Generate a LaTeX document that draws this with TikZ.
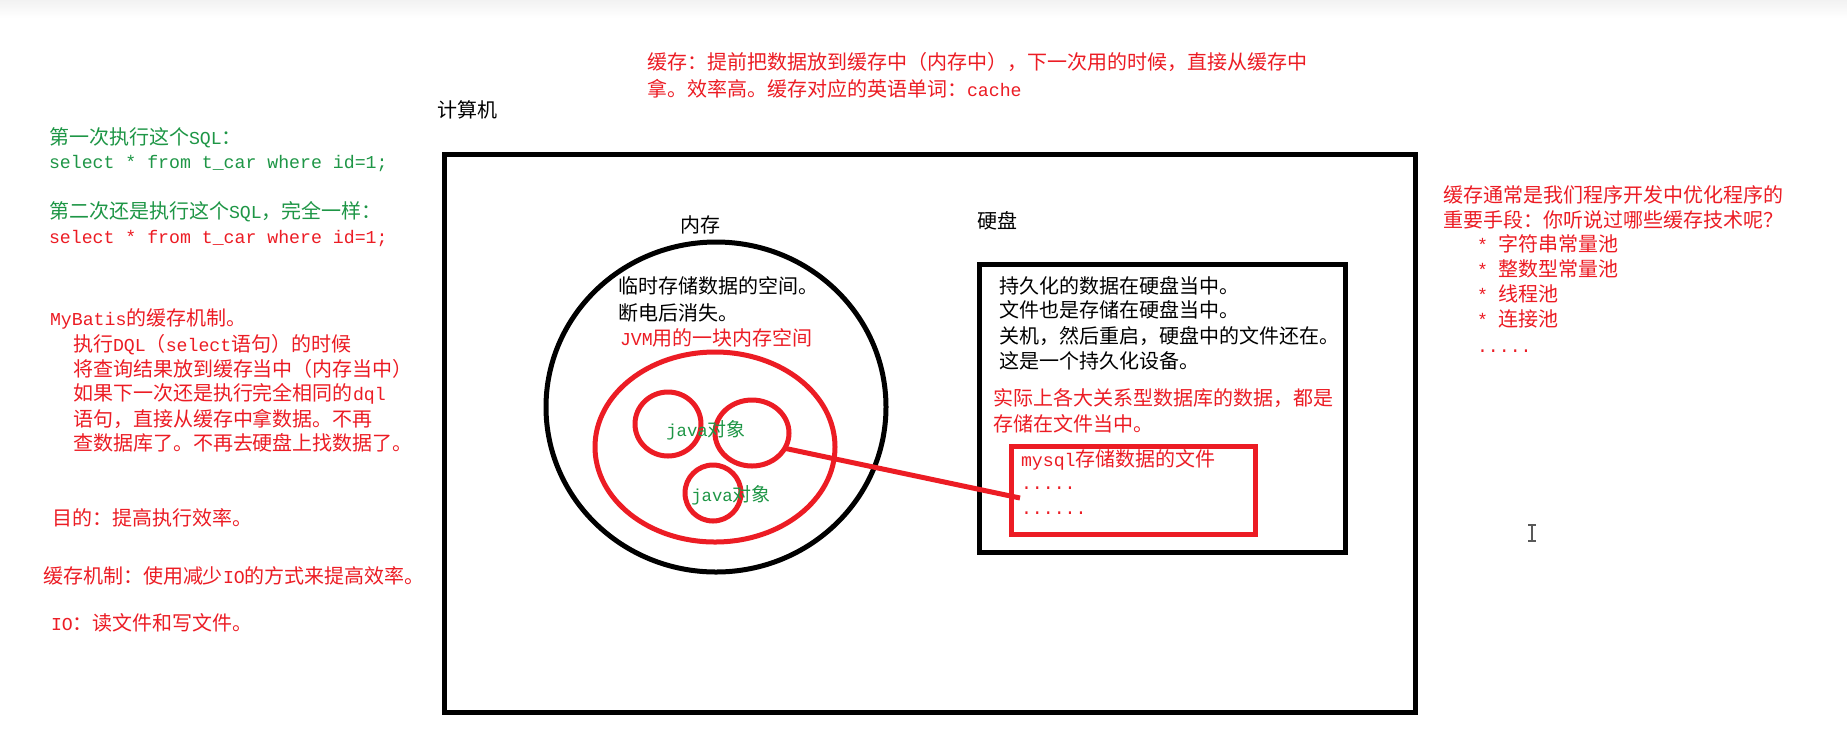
\documentclass[tikz,border=0pt]{standalone}
\usepackage{fontspec}
\setmainfont{Noto Sans CJK SC}
\newfontfamily\monof[Scale=0.91]{Liberation Mono}
\newcommand\mn[1]{{\monof #1}}
\usetikzlibrary{shapes.geometric}
\definecolor{pred}{RGB}{236,28,36}
\definecolor{pgreen}{RGB}{30,150,70}
\tikzset{
 txt/.style={inner sep=0pt, outer sep=0pt, anchor=base west, font=\fontsize{10}{12}\selectfont},
 rtxt/.style={txt, text=pred},
 gtxt/.style={txt, text=pgreen},
 blk/.style={draw=black, line width=2.5pt, inner sep=0pt, outer sep=0pt},
 redl/.style={draw=pred, line width=2.5pt, inner sep=0pt, outer sep=0pt},
 oval/.style={ellipse},
 jtxt/.style={text=pgreen, inner sep=0pt, font=\fontsize{9.5}{11}\selectfont},
}
\begin{document}
\begin{tikzpicture}[x=0.5pt,y=-0.5pt]
\useasboundingbox (0,0) rectangle (1847,741);
\fill[white] (0,0) rectangle (1847,741);
\fill[top color=black!5, bottom color=white, draw=none] (0,0) rectangle (1847,18);

% left column
\node[gtxt] (q1) at (49,144.6) {第一次执行这个\mn{SQL}：};
\node[gtxt] (q1s) at (49,168.5) {\mn{select * from t\_car where id=1;}};
\node[gtxt] (q2) at (49,218.4) {第二次还是执行这个\mn{SQL}，完全一样：};
\node[rtxt] (q2s) at (49,243.5) {\mn{select * from t\_car where id=1;}};

\node[rtxt] (mb1) at (50,325.6) {\mn{MyBatis}的缓存机制。};
\node[rtxt] (mb2) at (73,351.6) {执行\mn{DQL}（\mn{select}语句）的时候};
\node[rtxt] (mb3) at (73,376.6) {将查询结果放到缓存当中（内存当中）};
\node[rtxt] (mb4) at (73,400.6) {如果下一次还是执行完全相同的\mn{dql}};
\node[rtxt] (mb5) at (73,426.6) {语句，直接从缓存中拿数据。不再};
\node[rtxt] (mb6) at (73,450.6) {查数据库了。不再去硬盘上找数据了。};
\node[rtxt] (goal) at (53,525.6) {目的：提高执行效率。};
\node[rtxt] (mech) at (43,583.6) {缓存机制：使用减少\mn{IO}的方式来提高效率。};
\node[rtxt] (io) at (51,630.6) {\mn{IO}：读文件和写文件。};

% top note
\node[rtxt] (top1) at (647,69.6) {缓存：提前把数据放到缓存中（内存中），下一次用的时候，直接从缓存中};
\node[rtxt] (top2) at (647,96.6) {拿。效率高。缓存对应的英语单词：\mn{cache}};

% computer
\node[blk, minimum width=485.5pt, minimum height=279pt] (computer) at (930,433.5) {};
\node[txt] (lcomp) at (437,117.6) {计算机};
\node[txt] (lmem) at (680,232.6) {内存};
\node[txt] (ldisk) at (977,228.6) {硬盘};

% memory
\node[blk, oval, minimum width=170pt, minimum height=165pt] (mem) at (716,407) {};
\node[redl, oval, minimum width=120pt, minimum height=95pt] (jvm) at (715,447) {};
\node[redl, oval, minimum width=33pt, minimum height=32pt] (o1) at (668,424) {};
\node[redl, oval, minimum width=37pt, minimum height=33pt] (o2) at (752,433) {};
\node[redl, oval, minimum width=28pt, minimum height=28pt] (o3) at (713,493) {};
\node[txt] (m1) at (618,293.6) {临时存储数据的空间。};
\node[txt] (m2) at (618,320.6) {断电后消失。};
\node[rtxt] (m3) at (620,345.6) {\mn{JVM}用的一块内存空间};
\node[jtxt] (j1) at (706,430) {\mn{java}对象};
\node[jtxt] (j2) at (731,495) {\mn{java}对象};

% disk
\node[blk, minimum width=183pt, minimum height=144pt] (disk) at (1162.5,408.5) {};
\node[txt] (d1) at (999,293.6) {持久化的数据在硬盘当中。};
\node[txt] (d2) at (999,317.6) {文件也是存储在硬盘当中。};
\node[txt] (d3) at (999,343.6) {关机，然后重启，硬盘中的文件还在。};
\node[txt] (d4) at (999,368.6) {这是一个持久化设备。};
\node[rtxt] (d5) at (993,405.6) {实际上各大关系型数据库的数据，都是};
\node[rtxt] (d6) at (993,431.6) {存储在文件当中。};
\node[redl, minimum width=122pt, minimum height=44pt] (file) at (1133,490) {};
\node[rtxt] (f1) at (1021,466.6) {\mn{mysql}存储数据的文件};
\node[rtxt] (f2) at (1021,489) {\mn{.....}};
\node[rtxt] (f3) at (1021,514) {\mn{......}};

\coordinate (lend) at (1020,498);
\draw[pred, line width=2.5pt] (o2.-25) -- (lend);

% right list
\node[rtxt] (r1) at (1443,202.6) {缓存通常是我们程序开发中优化程序的};
\node[rtxt] (r2) at (1443,227.6) {重要手段：你听说过哪些缓存技术呢？};
\node[rtxt] (r3) at (1477,251.6) {\mn{*\ }字符串常量池};
\node[rtxt] (r4) at (1477,276.6) {\mn{*\ }整数型常量池};
\node[rtxt] (r5) at (1477,301.6) {\mn{*\ }线程池};
\node[rtxt] (r6) at (1477,326.6) {\mn{*\ }连接池};
\node[rtxt] (r7) at (1477,352) {\mn{.....}};

% text cursor
\draw[gray!70!black, line width=0.6pt] (1528,525)--(1536,525) (1532,525)--(1532,541) (1528,541)--(1536,541);
\end{tikzpicture}
\end{document}
